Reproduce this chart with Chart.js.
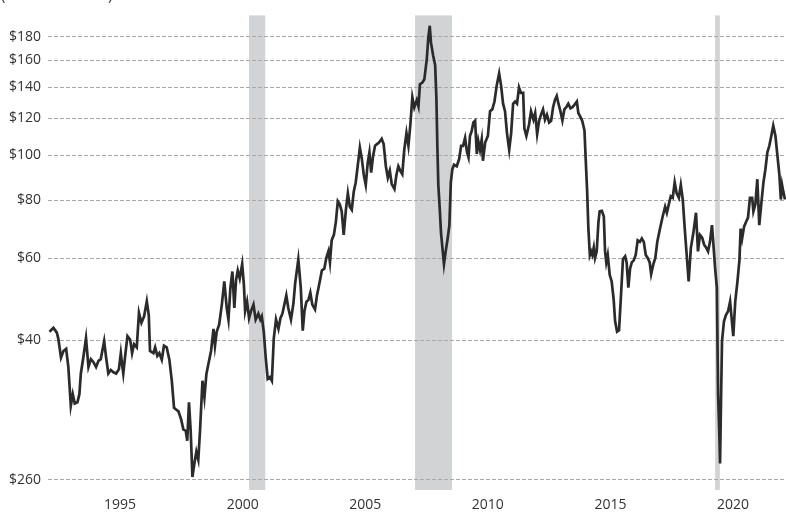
<!DOCTYPE html>
<html>
<head>
<meta charset="utf-8">
<script src="https://cdn.jsdelivr.net/npm/chart.js@4.4.1/dist/chart.umd.min.js"></script>
<style>
  html, body { margin: 0; padding: 0; background: #fff; }
  #wrap { width: 786px; height: 514px; }
</style>
</head>
<body>
<div id="wrap"><canvas id="oilChart" width="786" height="514"></canvas></div>
<script>
// price series (year as shown on the axis, price in $)
const years = [
  1992.12, 1992.28, 1992.42, 1992.48, 1992.59, 1992.69, 1992.80, 1992.89, 1992.99, 1993.07,
  1993.15, 1993.26, 1993.34, 1993.40, 1993.50, 1993.61, 1993.71, 1993.81, 1993.91, 1994.02,
  1994.12, 1994.21, 1994.35, 1994.43, 1994.52, 1994.62, 1994.73, 1994.84, 1994.95, 1995.03,
  1995.08, 1995.13, 1995.20, 1995.30, 1995.41, 1995.49, 1995.57, 1995.68, 1995.77, 1995.87,
  1995.98, 1996.09, 1996.17, 1996.22, 1996.36, 1996.43, 1996.52, 1996.60, 1996.70, 1996.79,
  1996.90, 1997.01, 1997.11, 1997.20, 1997.27, 1997.38, 1997.49, 1997.58, 1997.68, 1997.74,
  1997.81, 1997.88, 1997.95, 1998.03, 1998.11, 1998.19, 1998.26, 1998.36, 1998.44, 1998.52,
  1998.60, 1998.71, 1998.81, 1998.87, 1998.94, 1999.04, 1999.15, 1999.25, 1999.35, 1999.42,
  1999.50, 1999.58, 1999.66, 1999.73, 1999.80, 1999.88, 1999.98, 2000.05, 2000.10, 2000.18,
  2000.26, 2000.34, 2000.44, 2000.53, 2000.64, 2000.72, 2000.78, 2000.86, 2000.94, 2001.02,
  2001.11, 2001.19, 2001.27, 2001.36, 2001.46, 2001.54, 2001.62, 2001.70, 2001.78, 2001.86,
  2001.97, 2002.07, 2002.14, 2002.27, 2002.37, 2002.45, 2002.52, 2002.60, 2002.68, 2002.76,
  2002.84, 2002.95, 2003.03, 2003.13, 2003.23, 2003.33, 2003.41, 2003.50, 2003.56, 2003.63,
  2003.72, 2003.80, 2003.88, 2003.96, 2004.04, 2004.12, 2004.21, 2004.29, 2004.37, 2004.45,
  2004.53, 2004.61, 2004.69, 2004.78, 2004.86, 2004.94, 2005.02, 2005.10, 2005.17, 2005.24,
  2005.32, 2005.40, 2005.48, 2005.56, 2005.67, 2005.75, 2005.84, 2005.92, 2006.00, 2006.08,
  2006.19, 2006.27, 2006.35, 2006.43, 2006.51, 2006.59, 2006.68, 2006.76, 2006.84, 2006.92,
  2007.00, 2007.10, 2007.17, 2007.23, 2007.33, 2007.41, 2007.51, 2007.57, 2007.63, 2007.68,
  2007.77, 2007.85, 2007.90, 2007.94, 2007.98, 2008.04, 2008.09, 2008.16, 2008.21, 2008.28,
  2008.36, 2008.43, 2008.49, 2008.55, 2008.62, 2008.73, 2008.83, 2008.91, 2008.99, 2009.07,
  2009.15, 2009.21, 2009.27, 2009.34, 2009.41, 2009.48, 2009.55, 2009.61, 2009.68, 2009.75,
  2009.80, 2009.89, 2010.00, 2010.09, 2010.18, 2010.27, 2010.36, 2010.46, 2010.54, 2010.62,
  2010.70, 2010.78, 2010.87, 2010.95, 2011.03, 2011.11, 2011.19, 2011.27, 2011.35, 2011.44,
  2011.49, 2011.57, 2011.68, 2011.76, 2011.86, 2011.93, 2012.01, 2012.09, 2012.17, 2012.25,
  2012.33, 2012.41, 2012.50, 2012.58, 2012.66, 2012.74, 2012.81, 2012.88, 2012.96, 2013.04,
  2013.12, 2013.20, 2013.28, 2013.37, 2013.45, 2013.53, 2013.63, 2013.69, 2013.77, 2013.85,
  2013.94, 2013.99, 2014.05, 2014.10, 2014.16, 2014.21, 2014.26, 2014.32, 2014.37, 2014.44,
  2014.51, 2014.56, 2014.65, 2014.73, 2014.78, 2014.83, 2014.89, 2014.97, 2015.05, 2015.13,
  2015.19, 2015.27, 2015.35, 2015.43, 2015.51, 2015.60, 2015.66, 2015.73, 2015.80, 2015.87,
  2015.95, 2016.03, 2016.11, 2016.20, 2016.28, 2016.36, 2016.44, 2016.52, 2016.60, 2016.66,
  2016.75, 2016.83, 2016.91, 2017.02, 2017.13, 2017.23, 2017.30, 2017.38, 2017.46, 2017.54,
  2017.62, 2017.70, 2017.79, 2017.87, 2017.95, 2018.03, 2018.11, 2018.19, 2018.28, 2018.38,
  2018.49, 2018.57, 2018.65, 2018.74, 2018.82, 2018.90, 2018.98, 2019.06, 2019.14, 2019.20,
  2019.27, 2019.34, 2019.39, 2019.44, 2019.47, 2019.51, 2019.55, 2019.63, 2019.71, 2019.80,
  2019.88, 2019.93, 2020.01, 2020.09, 2020.18, 2020.26, 2020.31, 2020.37, 2020.45, 2020.53,
  2020.61, 2020.69, 2020.78, 2020.83, 2020.91, 2020.99, 2021.07, 2021.15, 2021.24, 2021.32,
  2021.40, 2021.48, 2021.56, 2021.64, 2021.73, 2021.81, 2021.89, 2021.95, 2022.00, 2022.05,
  2022.12
];

const prices = [
  41.7, 42.5, 41.5, 40.3, 36.7, 37.9, 38.3, 35.0, 28.9, 30.6,
  29.2, 29.4, 30.6, 33.9, 36.7, 40.4, 35.0, 36.4, 35.9, 35.0,
  36.1, 36.4, 39.8, 36.7, 33.9, 34.5, 34.1, 33.9, 34.6, 37.5,
  35.5, 33.9, 36.7, 40.8, 40.1, 37.5, 39.2, 38.6, 45.8, 43.6,
  45.0, 48.5, 45.3, 37.9, 37.5, 38.6, 37.0, 37.5, 36.3, 38.9,
  38.6, 36.3, 32.7, 28.6, 28.4, 28.1, 27.0, 25.7, 25.5, 24.3,
  29.4, 25.5, 20.3, 21.7, 23.0, 22.1, 25.5, 32.7, 30.1, 33.8,
  35.5, 37.9, 42.3, 38.9, 41.7, 43.2, 47.7, 53.5, 46.9, 44.3,
  51.9, 56.2, 46.9, 53.9, 56.5, 54.3, 58.3, 52.6, 46.2, 48.4,
  44.6, 46.2, 47.7, 44.3, 45.6, 44.3, 45.0, 41.7, 36.7, 33.0,
  33.3, 32.7, 40.4, 44.3, 42.3, 44.6, 45.6, 47.7, 49.9, 46.9,
  44.3, 48.0, 53.0, 59.7, 51.9, 41.9, 46.2, 48.4, 48.8, 50.6,
  47.7, 46.6, 49.9, 53.0, 56.5, 57.0, 60.1, 62.2, 58.8, 65.6,
  67.4, 71.8, 79.6, 78.4, 75.7, 67.4, 76.3, 82.8, 77.5, 76.3,
  83.5, 87.4, 94.7, 103.9, 98.2, 90.7, 86.3, 96.3, 101.5, 91.8,
  99.8, 104.8, 105.7, 106.5, 108.5, 105.7, 94.7, 89.5, 92.6, 86.7,
  84.6, 90.7, 94.7, 92.6, 91.1, 102.7, 111.6, 104.8, 116.5, 133.3,
  126.7, 131.4, 127.4, 142.2, 143.4, 145.7, 161.3, 178.7, 190.0, 174.7,
  163.8, 156.2, 133.3, 104.8, 86.3, 76.3, 68.0, 62.1, 58.3, 62.1,
  66.2, 70.6, 87.4, 93.3, 95.4, 94.7, 98.2, 104.8, 104.8, 109.0,
  101.5, 99.0, 110.0, 112.7, 117.6, 118.6, 100.6, 107.3, 102.7, 108.2,
  97.3, 106.5, 110.0, 124.4, 125.5, 130.5, 141.2, 150.1, 141.2, 129.1,
  124.4, 111.6, 102.7, 111.6, 129.1, 130.5, 129.1, 140.0, 136.2, 136.2,
  114.1, 110.0, 116.5, 124.4, 119.3, 123.3, 111.0, 118.6, 122.3, 125.5,
  119.3, 122.3, 117.6, 118.6, 126.9, 131.7, 134.2, 129.1, 124.4, 118.8,
  125.5, 126.9, 129.1, 126.2, 126.9, 128.4, 130.5, 123.3, 121.1, 118.6,
  113.1, 98.2, 83.5, 69.5, 61.0, 62.1, 61.0, 63.3, 60.1, 62.1,
  71.8, 75.7, 75.9, 73.8, 62.1, 58.8, 61.0, 55.3, 53.5, 49.0,
  43.9, 41.7, 42.0, 49.9, 59.7, 60.6, 58.8, 51.9, 57.0, 58.8,
  59.4, 61.0, 65.6, 65.1, 66.2, 65.1, 61.0, 60.1, 58.8, 55.5,
  58.3, 60.1, 65.1, 69.5, 73.8, 77.5, 75.2, 78.4, 81.6, 81.0,
  87.4, 82.8, 81.0, 86.3, 80.3, 69.5, 61.0, 53.5, 63.2, 68.0,
  75.2, 62.1, 67.4, 66.5, 64.2, 63.3, 62.1, 65.1, 70.7, 64.2,
  57.0, 51.9, 30.6, 25.2, 21.7, 29.7, 39.8, 43.9, 45.3, 46.2,
  48.4, 45.3, 40.8, 48.4, 53.5, 59.4, 69.5, 66.2, 70.2, 71.8,
  73.4, 81.0, 81.0, 75.7, 78.4, 88.8, 70.7, 78.4, 87.4, 93.3,
  101.5, 104.8, 110.0, 115.8, 110.0, 99.8, 90.7, 80.3, 86.3, 83.5,
  80.3
];

// shaded periods
const shadeStart = [2000.26, 2007.03, 2019.27];
const shadeEnd = [2000.92, 2008.54, 2019.46];

const yTicks = [20, 40, 60, 80, 100, 120, 140, 160, 180];
const yTickLabels = ['$260', '$40', '$60', '$80', '$100', '$120', '$140', '$160', '$180'];
const xTicks = [1995, 2000, 2005, 2010, 2015, 2020];

// unit note above the chart, mostly cut off by the top edge
const unitNote = '(in 2022 dollars)';

const points = years.map((yr, i) => ({ x: yr, y: prices[i] }));

const shadePlugin = {
  id: 'shade',
  beforeDraw (chart) {
    const { ctx, chartArea } = chart;
    const xs = chart.scales.x;
    ctx.save();
    ctx.fillStyle = '#d2d3d5';
    shadeStart.forEach((s, i) => {
      const x0 = xs.getPixelForValue(s);
      const x1 = xs.getPixelForValue(shadeEnd[i]);
      ctx.fillRect(x0, chartArea.top, x1 - x0, chartArea.bottom - chartArea.top);
    });
    ctx.restore();
  },
  afterDraw (chart) {
    const { ctx } = chart;
    ctx.save();
    ctx.fillStyle = '#333';
    ctx.font = '15px "Open Sans"';
    ctx.textBaseline = 'alphabetic';
    ctx.fillText(unitNote, 1, 0);
    ctx.restore();
  }
};

const ctx = document.getElementById('oilChart').getContext('2d');
new Chart(ctx, {
  type: 'line',
  data: {
    datasets: [{
      data: points,
      borderColor: '#2b2b2b',
      borderWidth: 2.7,
      pointRadius: 0,
      tension: 0,
      fill: false
    }]
  },
  options: {
    responsive: false,
    animation: false,
    layout: { padding: { top: 12, left: 0, right: 0, bottom: 0 } },
    plugins: { legend: { display: false }, tooltip: { enabled: false } },
    scales: {
      x: {
        type: 'linear',
        min: 1992.06,
        max: 2022.16,
        afterBuildTicks (scale) { scale.ticks = xTicks.map(v => ({ value: v })); },
        afterFit (scale) { scale.height = 24; },
        grid: { display: false, drawTicks: false },
        border: { display: false },
        ticks: {
          padding: 7,
          color: '#333',
          font: { family: 'Open Sans', size: 14 },
          maxRotation: 0,
          callback: v => String(v)
        }
      },
      y: {
        type: 'logarithmic',
        min: 19.03,
        max: 200,
        afterBuildTicks (scale) { scale.ticks = yTicks.map(v => ({ value: v })); },
        afterFit (scale) { scale.width = 48; },
        grid: { color: '#a9a9a9', lineWidth: 1, drawTicks: false },
        border: { display: false, dash: [4, 2] },
        ticks: {
          padding: 7,
          color: '#333',
          font: { family: 'Open Sans', size: 14 },
          callback: v => yTickLabels[yTicks.indexOf(v)]
        }
      }
    }
  },
  plugins: [shadePlugin]
});
</script>
</body>
</html>
